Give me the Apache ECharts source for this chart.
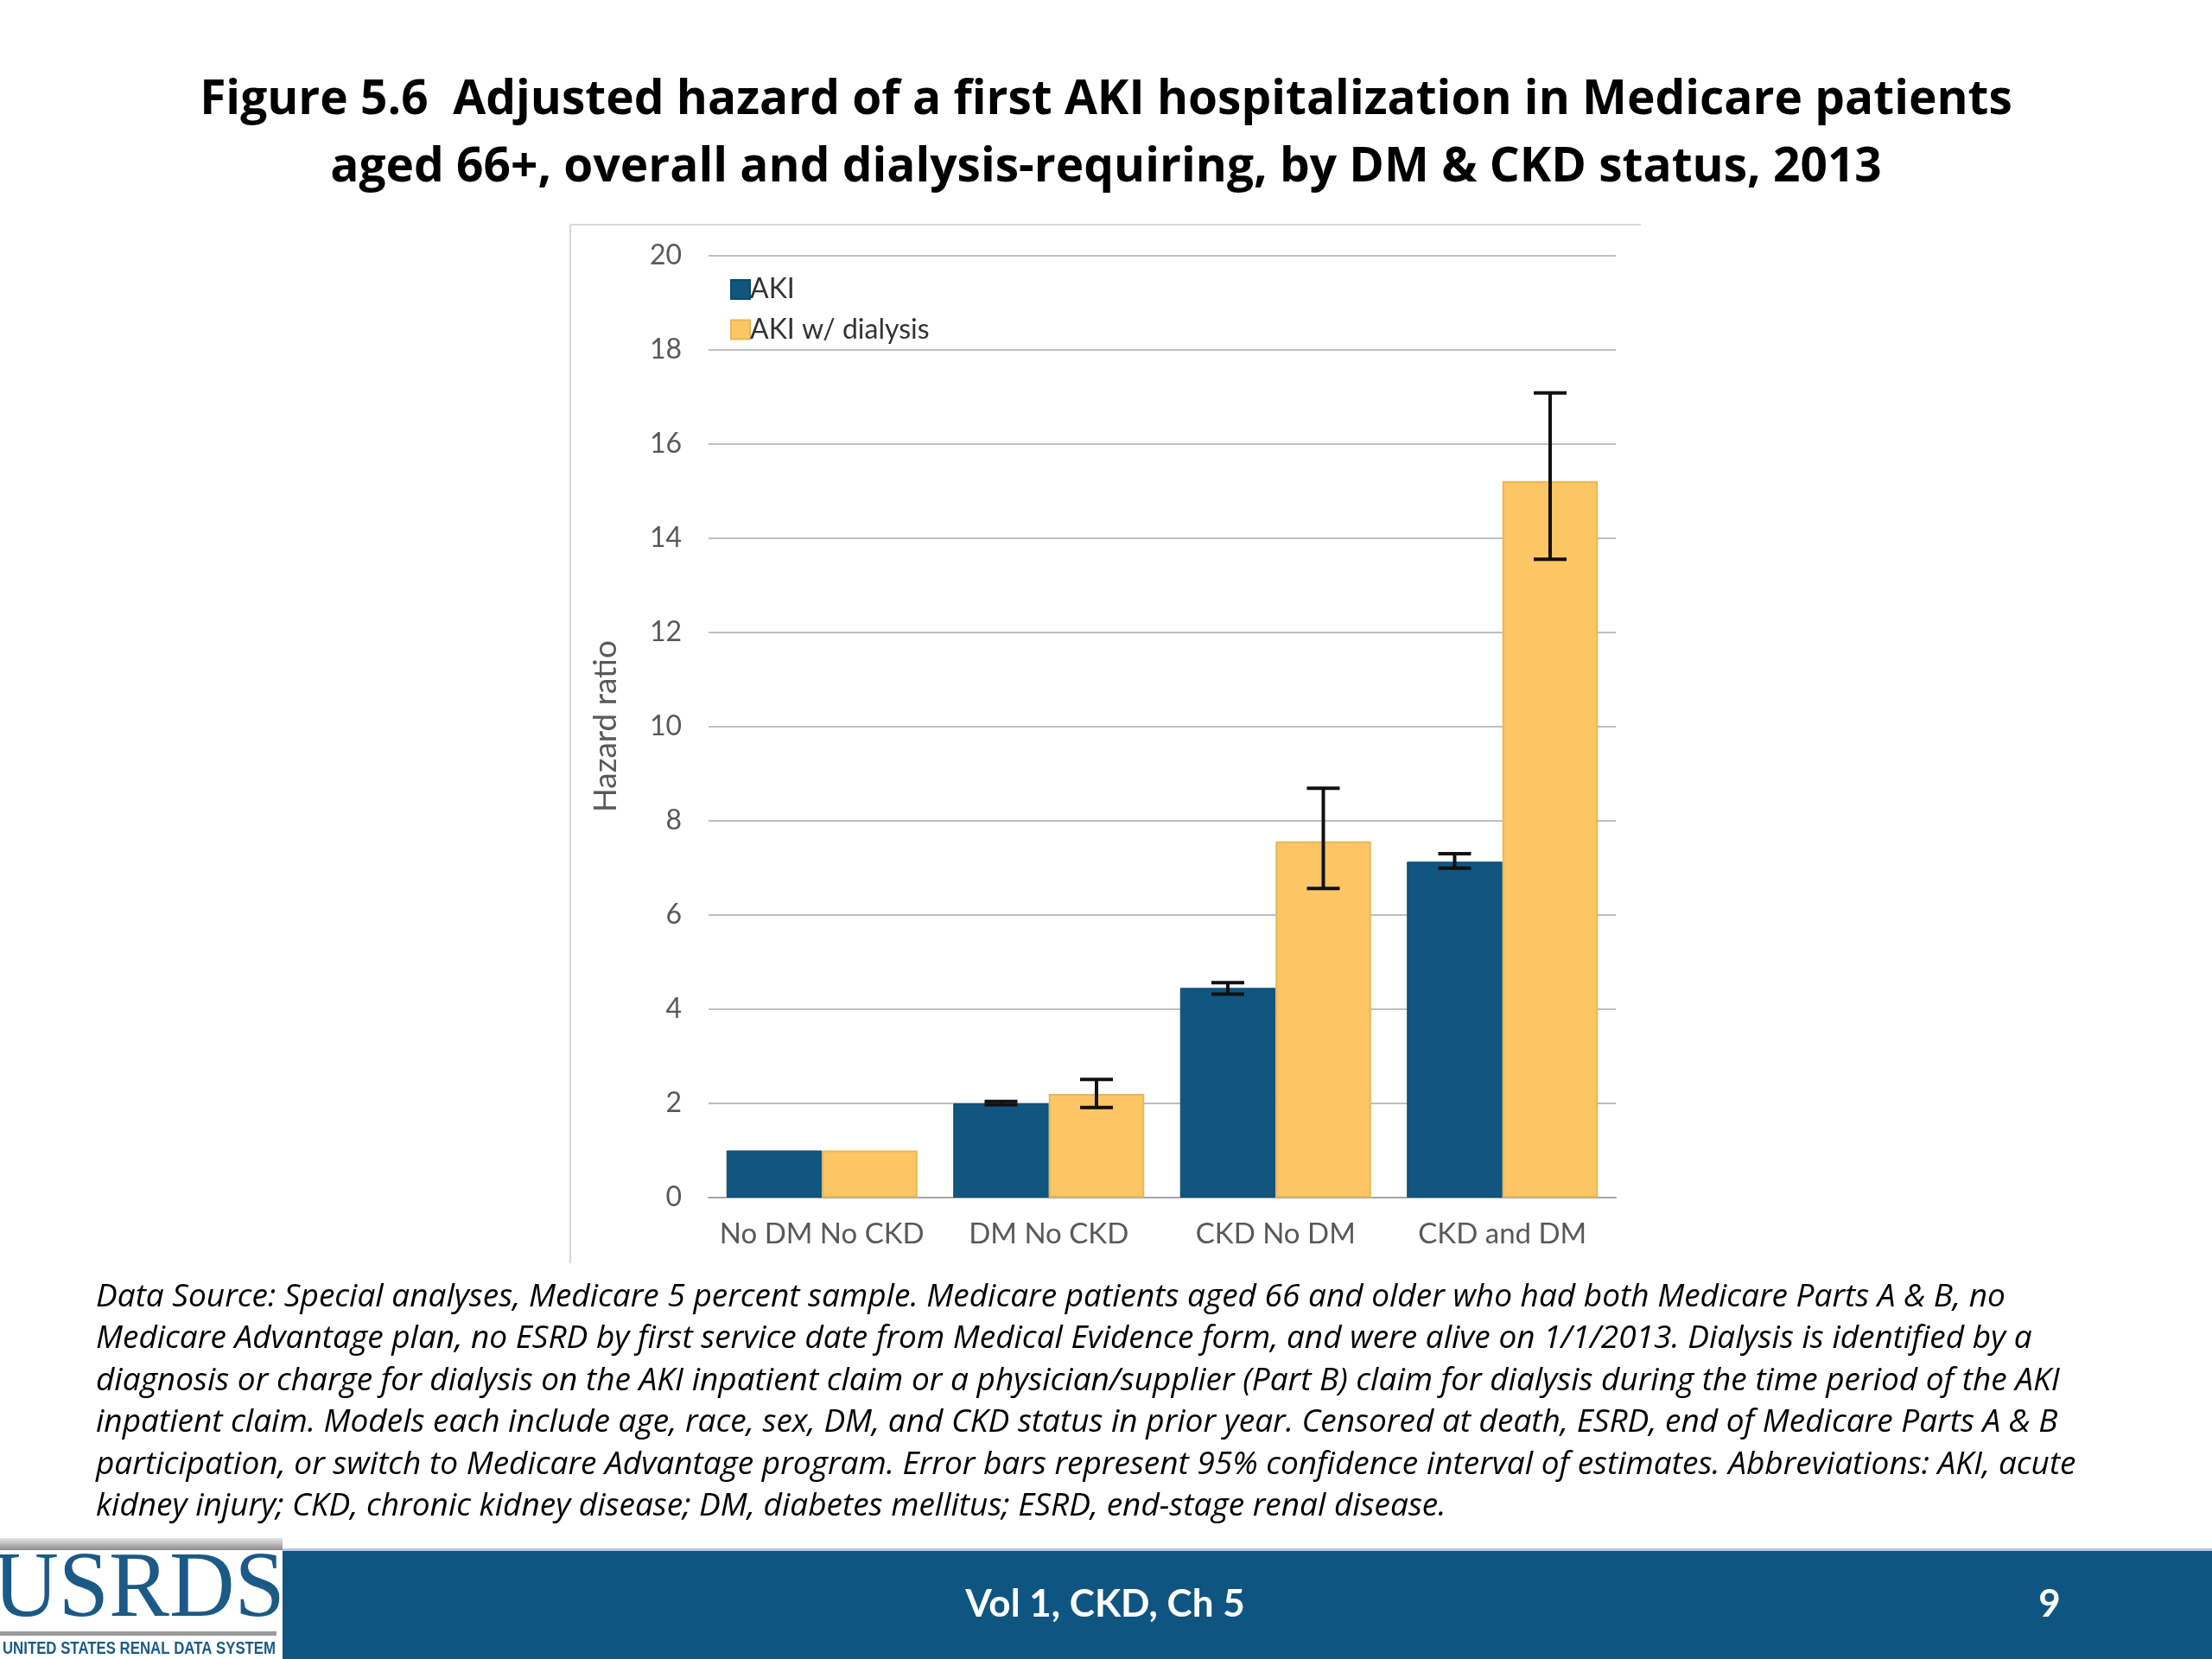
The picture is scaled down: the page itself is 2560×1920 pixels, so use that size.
<!DOCTYPE html>
<html>
<head>
<meta charset="utf-8">
<script src="https://cdn.jsdelivr.net/npm/echarts@6/dist/echarts.min.js"></script>
<style>
html,body{margin:0;padding:0;background:#fff;}
#chart{width:2560px;height:1920px;}
</style>
</head>
<body>
<div id="chart"></div>
<script>
// ---- data ----
var categories = ['No DM No CKD', 'DM No CKD', 'CKD No DM', 'CKD and DM'];
var seriesNames = ['AKI', 'AKI w/ dialysis'];
var akiValues = [1.0, 2.0, 4.45, 7.13];
var dialysisValues = [1.0, 2.2, 7.56, 15.21];
var akiLow = [null, 1.97, 4.32, 6.99];
var akiHigh = [null, 2.04, 4.56, 7.30];
var dialysisLow = [null, 1.91, 6.56, 13.55];
var dialysisHigh = [null, 2.51, 8.69, 17.08];
var yTicks = {min: 0, max: 20, interval: 2};

var titleText = 'Figure 5.6  Adjusted hazard of a first AKI hospitalization in Medicare patients\naged 66+, overall and dialysis-requiring, by DM & CKD status, 2013';
var noteLines = [
  'Data Source: Special analyses, Medicare 5 percent sample. Medicare patients aged 66 and older who had both Medicare Parts A & B, no',
  'Medicare Advantage plan, no ESRD by first service date from Medical Evidence form, and were alive on 1/1/2013. Dialysis is identified by a',
  'diagnosis or charge for dialysis on the AKI inpatient claim or a physician/supplier (Part B) claim for dialysis during the time period of the AKI',
  'inpatient claim. Models each include age, race, sex, DM, and CKD status in prior year. Censored at death, ESRD, end of Medicare Parts A & B',
  'participation, or switch to Medicare Advantage program. Error bars represent 95% confidence interval of estimates. Abbreviations: AKI, acute',
  'kidney injury; CKD, chronic kidney disease; DM, diabetes mellitus; ESRD, end-stage renal disease.'
];
var footerText = 'Vol 1, CKD, Ch 5';
var pageNumber = '9';

// ---- styling ----
var BLUE = '#10567F';
var ORANGE = '#FDC664';
var CAT_GAP = 0.158;
var FONT = 'Lato, "Open Sans", sans-serif';
var FONT2 = '"Open Sans", Lato, sans-serif';

// error bar data built from arrays
var errData = [];
categories.forEach(function (c, i) {
  if (akiLow[i] != null) errData.push([i, akiLow[i], akiHigh[i], 0]);
  if (dialysisLow[i] != null) errData.push([i, dialysisLow[i], dialysisHigh[i], 1]);
});

var chart = echarts.init(document.getElementById('chart'), null, {renderer: 'canvas'});

var option = {
  backgroundColor: '#ffffff',
  animation: false,
  title: {
    text: titleText,
    left: 'center',
    top: 72,
    textStyle: {fontFamily: FONT2, fontWeight: 'bold', fontSize: 55, lineHeight: 78, color: '#000000'}
  },
  legend: {
    data: seriesNames,
    orient: 'vertical',
    left: 840,
    top: 313,
    itemWidth: 22,
    itemHeight: 22,
    itemGap: 12.5,
    icon: 'rect',
    textStyle: {fontFamily: FONT, fontSize: 32, color: '#333333', lineHeight: 34, padding: [0, 0, 0, -5]}
  },
  grid: {left: 820, right: 690, top: 295.5, bottom: 534, containLabel: false, outerBoundsMode: 'none'},
  xAxis: {
    type: 'category',
    data: categories,
    axisTick: {show: false},
    axisLine: {lineStyle: {color: '#A6A6A6', width: 2}},
    axisLabel: {fontFamily: FONT, fontSize: 33, color: '#595959', margin: 26, interval: 0}
  },
  yAxis: {
    type: 'value',
    min: yTicks.min,
    max: yTicks.max,
    interval: yTicks.interval,
    name: 'Hazard ratio',
    nameLocation: 'middle',
    nameRotate: 90,
    nameGap: 100,
    nameTextStyle: {fontFamily: FONT, fontSize: 37, color: '#595959'},
    axisLine: {show: false},
    axisTick: {show: false},
    axisLabel: {fontFamily: FONT, fontSize: 32, color: '#595959', margin: 31},
    splitLine: {lineStyle: {color: '#BFBFBF', width: 2}}
  },
  series: [
    {
      name: seriesNames[0], type: 'bar', data: akiValues,
      barGap: '0%', barCategoryGap: (CAT_GAP * 100) + '%',
      itemStyle: {color: BLUE, borderColor: '#0C4A70', borderWidth: 1}
    },
    {
      name: seriesNames[1], type: 'bar', data: dialysisValues,
      barGap: '0%', barCategoryGap: (CAT_GAP * 100) + '%',
      itemStyle: {color: ORANGE, borderColor: '#E8B55A', borderWidth: 2}
    },
    {
      name: 'CI', type: 'custom', data: errData, z: 10,
      encode: {x: 0, y: [1, 2]},
      renderItem: function (params, api) {
        var ci = api.value(0), lo = api.value(1), hi = api.value(2), s = api.value(3);
        var center = api.coord([ci, 0])[0];
        var catW = api.size([1, 0])[0];
        var barW = catW * (1 - CAT_GAP) / 2;
        var x = center + (s === 0 ? -barW / 2 : barW / 2);
        var yLo = api.coord([ci, lo])[1];
        var yHi = api.coord([ci, hi])[1];
        var cap = 19;
        var st = {stroke: '#111111', lineWidth: 4};
        return {
          type: 'group',
          children: [
            {type: 'line', shape: {x1: x, y1: yLo, x2: x, y2: yHi}, style: st},
            {type: 'line', shape: {x1: x - cap, y1: yHi, x2: x + cap, y2: yHi}, style: st},
            {type: 'line', shape: {x1: x - cap, y1: yLo, x2: x + cap, y2: yLo}, style: st}
          ]
        };
      }
    }
  ],
  graphic: [
    // frame lines of the embedded chart
    {type: 'line', shape: {x1: 660, y1: 260, x2: 1899, y2: 260}, style: {stroke: '#D9D9D9', lineWidth: 2}, silent: true},
    {type: 'line', shape: {x1: 660, y1: 260, x2: 660, y2: 1462}, style: {stroke: '#D9D9D9', lineWidth: 2}, silent: true},
    // footnote
    {
      type: 'text', left: 111, top: 1477, silent: true,
      style: {text: noteLines.join('\n'), font: 'italic 37px ' + FONT2, fill: '#000000', lineHeight: 48.5}
    },
    // footer band
    {type: 'rect', shape: {x: 327, y: 1794, width: 2233, height: 126}, style: {fill: '#0F5581'}, silent: true},
    {type: 'rect', shape: {x: 327, y: 1792, width: 2233, height: 3}, style: {fill: '#B8C8D8'}, silent: true},
    {
      type: 'text', x: 1279, y: 1857, silent: true,
      style: {text: footerText, font: 'bold 44px ' + FONT, fill: '#ffffff', align: 'center', verticalAlign: 'middle'}
    },
    {
      type: 'text', x: 2372, y: 1857, silent: true,
      style: {text: pageNumber, font: 'bold 44px ' + FONT, fill: '#ffffff', align: 'center', verticalAlign: 'middle'}
    },
    // logo
    {
      type: 'rect', shape: {x: 0, y: 1780, width: 327, height: 14}, silent: true,
      style: {fill: new echarts.graphic.LinearGradient(0, 0, 0, 1, [{offset: 0, color: '#E6E6E6'}, {offset: 1, color: '#8C8C8C'}])}
    },
    {
      type: 'rect', shape: {x: 0, y: 1888, width: 320, height: 5}, silent: true,
      style: {fill: '#9A9A9A'}
    },
    {
      type: 'text', x: 161, y: 1842, scaleX: 0.97, originX: 0, originY: 0, silent: true,
      style: {text: 'USRDS', font: '108px "Liberation Serif", "DejaVu Serif", serif', fill: '#1B5A86', align: 'center', verticalAlign: 'middle'}
    },
    {
      type: 'text', x: 161, y: 1908, scaleX: 0.8, originX: 0, originY: 0, silent: true,
      style: {text: 'UNITED STATES RENAL DATA SYSTEM', font: 'bold 21px "Liberation Sans", Arial, sans-serif', fill: '#1B5A86', align: 'center', verticalAlign: 'middle'}
    }
  ]
};

chart.setOption(option);
</script>
</body>
</html>
